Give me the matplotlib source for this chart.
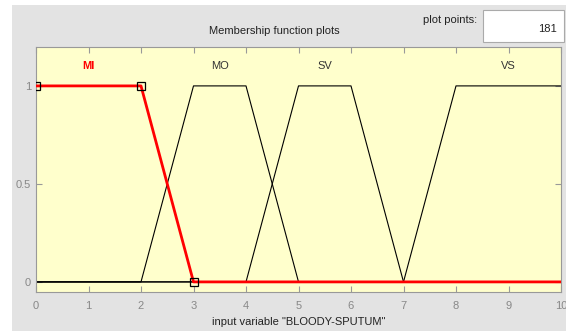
import matplotlib.pyplot as plt
import numpy as np

# membership functions of input "BLOODY-SPUTUM" (trapmf parameters)
mf_names = ['MI', 'MO', 'SV', 'VS']
mf_params = [[0, 0, 2, 3], [2, 3, 4, 5], [4, 5, 6, 7], [7, 8, 10, 10]]
x_range = [0, 10]
n_points = 181
selected = 'MI'


def trapmf(x, a, b, c, d):
    y = np.ones_like(x)
    if b > a:
        y = np.minimum(y, (x - a) / (b - a))
    else:
        y = np.where(x < a, 0.0, y)
    if d > c:
        y = np.minimum(y, (d - x) / (d - c))
    else:
        y = np.where(x > d, 0.0, y)
    return np.clip(y, 0, 1)


x = np.linspace(x_range[0], x_range[1], n_points)

plt.rcParams['font.family'] = ['Liberation Sans Narrow', 'Liberation Sans', 'DejaVu Sans']
fig = plt.figure(figsize=(5.66, 3.31), dpi=100)
fig.patch.set_facecolor('white')

# grey GUI panel behind the plot
panel = plt.Rectangle((12 / 566, 0), 1, 1 - 5 / 331, transform=fig.transFigure,
                      facecolor='#e3e3e3', edgecolor='none', zorder=-10)
fig.patches.append(panel)

ax = fig.add_axes([36 / 566, 1 - 291.7 / 331, 525 / 566, 245 / 331])
ax.set_facecolor('#ffffcc')

for name, p in zip(mf_names, mf_params):
    if name == selected:
        continue
    ax.plot(x, trapmf(x, *p), color='black', lw=0.8, zorder=2)

sel = mf_params[mf_names.index(selected)]
ax.plot(x, trapmf(x, *sel), color='red', lw=2.0, zorder=3)
ax.plot(sel[1:], [1, 1, 0], ls='none', marker='s', ms=6, mfc='none', mec='black',
        mew=0.9, zorder=4)

for name, p in zip(mf_names, mf_params):
    ax.text((p[1] + p[2]) / 2, 1.10, name, ha='center', va='center', fontsize=8,
            color='red' if name == selected else '#333333',
            fontweight='bold' if name == selected else 'normal')

ax.set_xlim(x_range)
ax.set_ylim(-0.05, 1.2)
ax.set_xticks(range(0, 11))
ax.set_yticks([0, 0.5, 1])
ax.set_yticklabels(['0', '0.5', '1'])
ax.tick_params(direction='in', length=4, color='#999999', labelcolor='#888888',
               labelsize=8, top=True, right=True)
ax.tick_params(axis='x', pad=7)
for s in ax.spines.values():
    s.set_color('#999999')
    s.set_linewidth(0.8)

ax.set_xlabel('input variable "BLOODY-SPUTUM"', fontsize=8, color='#222222', labelpad=4)

fig.text(274 / 566, 1 - 31 / 331, 'Membership function plots', ha='center', va='center',
         fontsize=8, color='#222222')
fig.text(477 / 566, 1 - 20 / 331, 'plot points:', ha='right', va='center',
         fontsize=8, color='#222222')
box = plt.Rectangle((483 / 566, 1 - 42 / 331), 81 / 566, 32 / 331, transform=fig.transFigure,
                    facecolor='white', edgecolor='#aaaaaa', lw=0.8)
fig.patches.append(box)
fig.text(557 / 566, 1 - 29 / 331, str(n_points), ha='right', va='center',
         fontsize=8, color='#222222')

fig.savefig('out.png', dpi=100)
